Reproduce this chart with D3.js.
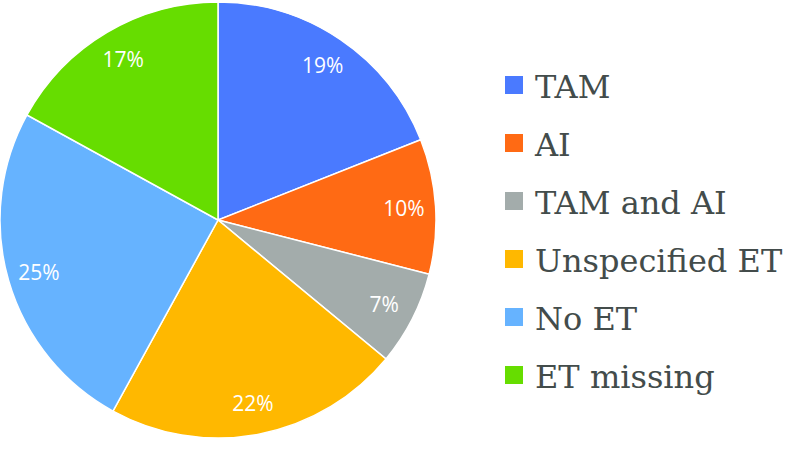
<!DOCTYPE html>
<html><head><meta charset="utf-8">
<script src="https://cdn.jsdelivr.net/npm/d3@7"></script>
<style>html,body{margin:0;padding:0;background:#fff;}svg{display:block;}</style>
</head><body>
<svg id="chart" width="786" height="476"></svg>
<script>
const categories = ["TAM", "AI", "TAM and AI", "Unspecified ET", "No ET", "ET missing"];
const values = [19, 10, 7, 22, 25, 17];
const colors = ["#4a7aff", "#ff6a14", "#a3acab", "#ffb800", "#66b3ff", "#66dd00"];

const svg = d3.select("#chart");
const cx = 218, cy = 220, R = 218;
const g = svg.append("g").attr("transform", `translate(${cx},${cy})`);
const pie = d3.pie().sort(null).value(d => d)(values);
const arc = d3.arc().innerRadius(0).outerRadius(R);
const labelArc = d3.arc().innerRadius(R * 0.855).outerRadius(R * 0.855);

g.selectAll("path").data(pie).join("path")
  .attr("d", arc)
  .attr("fill", (d, i) => colors[i])
  .attr("stroke", "#fff").attr("stroke-width", 1.5);

g.selectAll("text").data(pie).join("text")
  .attr("transform", d => `translate(${labelArc.centroid(d)})`)
  .attr("text-anchor", "middle").attr("dy", "0.36em")
  .attr("fill", "#fff")
  .style("font-family", "'Open Sans', sans-serif").style("font-size", "21px")
  .text(d => d.data + "%");

const y = d3.scaleBand().domain(categories).range([60, 408]);
const leg = svg.append("g");
const items = leg.selectAll("g").data(categories).join("g")
  .attr("transform", d => `translate(505,${y(d) + y.bandwidth() / 2})`);
items.append("rect").attr("x", 0).attr("y", -13).attr("width", 18).attr("height", 18)
  .attr("fill", (d, i) => colors[i]);
items.append("text").attr("x", 30).attr("y", 9)
  .attr("fill", "#434c4b")
  .style("font-family", "'DejaVu Serif', serif").style("font-size", "32px")
  .text(d => d);
</script>
</body></html>
